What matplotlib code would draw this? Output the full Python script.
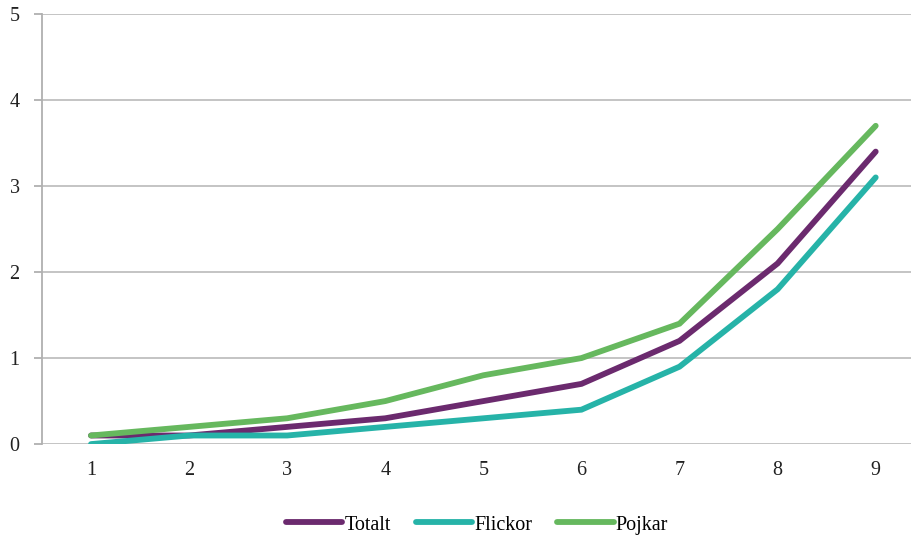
import matplotlib.pyplot as plt
import numpy as np

plt.rcParams['font.family'] = ['Liberation Serif', 'DejaVu Serif']

categories = [1, 2, 3, 4, 5, 6, 7, 8, 9]
totalt = [0.1, 0.1, 0.2, 0.3, 0.5, 0.7, 1.2, 2.1, 3.4]
flickor = [0.0, 0.1, 0.1, 0.2, 0.3, 0.4, 0.9, 1.8, 3.1]
pojkar = [0.1, 0.2, 0.3, 0.5, 0.8, 1.0, 1.4, 2.5, 3.7]

series = [
    ('Totalt', totalt, '#6b2a6e'),
    ('Flickor', flickor, '#26b3a8'),
    ('Pojkar', pojkar, '#66b85e'),
]

fig = plt.figure(figsize=(9.12, 5.37), dpi=100)
ax = fig.add_axes([0.046, 0.173, 0.954, 0.801])

for name, vals, col in series:
    ax.plot(categories, vals, color=col, lw=4.2, label=name,
            solid_capstyle='round', solid_joinstyle='miter')

ax.set_xlim(0.5, 9.37)
ax.set_ylim(0, 5)
ax.set_yticks(np.arange(0, 6, 1))
ax.set_xticks(categories)
ax.yaxis.grid(True, color='#bfbfbf', lw=1.3)
ax.set_axisbelow(True)

for s in ['top', 'right', 'bottom']:
    ax.spines[s].set_visible(False)
ax.spines['left'].set_color('#b0b0b0')
ax.spines['left'].set_linewidth(1.3)
ax.tick_params(axis='x', length=0, pad=12, labelsize=14.5, colors='#222222')
ax.tick_params(axis='y', length=6, width=1.3, color='#b0b0b0', pad=10,
               labelsize=14.5, labelcolor='#222222')

leg = ax.legend(loc='upper center', bbox_to_anchor=(0.5, -0.133), ncol=3,
                frameon=False, fontsize=14.5, handlelength=2.8,
                handletextpad=0.1, columnspacing=1.25, borderpad=0.2)
for h in leg.get_lines():
    h.set_solid_capstyle('round')

fig.savefig('out.png', dpi=100)
